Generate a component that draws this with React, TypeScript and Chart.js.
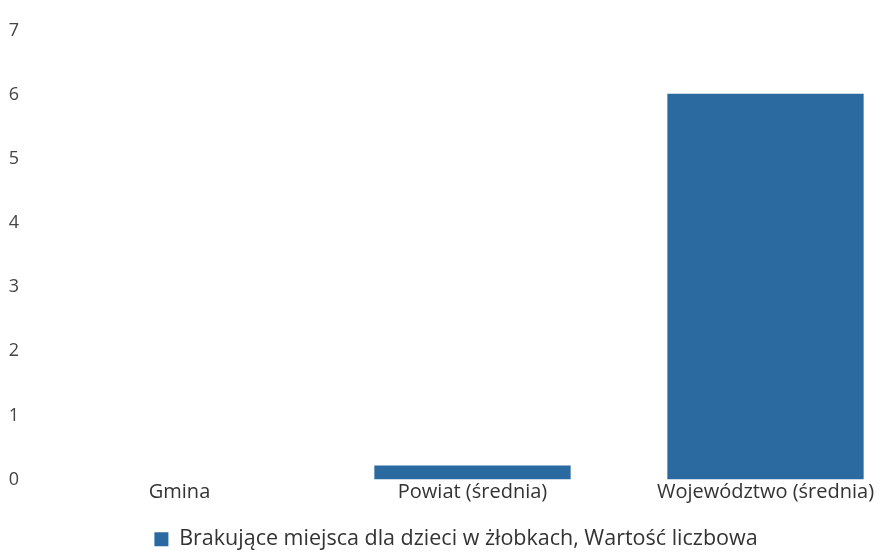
import React, { useEffect, useRef } from "react";
import { Chart, registerables } from "chart.js";

Chart.register(...registerables);

const categories: string[] = ["Gmina", "Powiat (średnia)", "Województwo (średnia)"];
const seriesLabel = "Brakujące miejsca dla dzieci w żłobkach, Wartość liczbowa";
const values: number[] = [0, 0.22, 6.02];
const yTicks: number[] = [0, 1, 2, 3, 4, 5, 6, 7];

export default function App() {
  const ref = useRef<HTMLCanvasElement | null>(null);
  useEffect(() => {
    document.body.style.margin = "0";
    document.body.style.overflow = "hidden";
    const ctx = ref.current!.getContext("2d")!;
    const chart = new Chart(ctx, {
      type: "bar",
      data: {
        labels: categories,
        datasets: [
          {
            label: seriesLabel,
            data: values,
            backgroundColor: "#2b6aa0",
            borderWidth: 0,
            barPercentage: 0.67,
            categoryPercentage: 1,
          },
        ],
      },
      options: {
        responsive: false,
        animation: false,
        layout: { padding: { left: 0, top: 31, right: 0, bottom: 0 } },
        plugins: {
          legend: {
            position: "bottom",
            labels: {
              color: "#333",
              font: { family: "'Open Sans', sans-serif", size: 21.5 },
              boxWidth: 14,
              boxHeight: 14,
              padding: 2,
            },
          },
          tooltip: { enabled: false },
        },
        scales: {
          x: {
            grid: { display: false, drawTicks: false },
            border: { display: false },
            afterFit: (scale: any) => {
              scale.height = 47;
            },
            ticks: {
              color: "#333",
              font: { family: "'Open Sans', sans-serif", size: 20 },
              padding: 1,
              maxRotation: 0,
            },
          },
          y: {
            min: yTicks[0],
            max: yTicks[yTicks.length - 1],
            grid: { display: false, drawTicks: false },
            border: { display: false },
            afterBuildTicks: (axis: any) => {
              axis.ticks = yTicks.map((v) => ({ value: v }));
            },
            afterFit: (scale: any) => {
              scale.width = 33;
            },
            ticks: {
              color: "#444",
              font: { family: "'Open Sans', sans-serif", size: 18 },
              padding: 14,
            },
          },
        },
      },
    });
    return () => chart.destroy();
  }, []);
  return (
    <div style={{ position: "fixed", left: 0, top: 0, width: 885, height: 560, overflow: "hidden", background: "#fff" }}>
      <canvas ref={ref} width={912} height={560} style={{ display: "block", width: 912, height: 560 }} />
    </div>
  );
}
